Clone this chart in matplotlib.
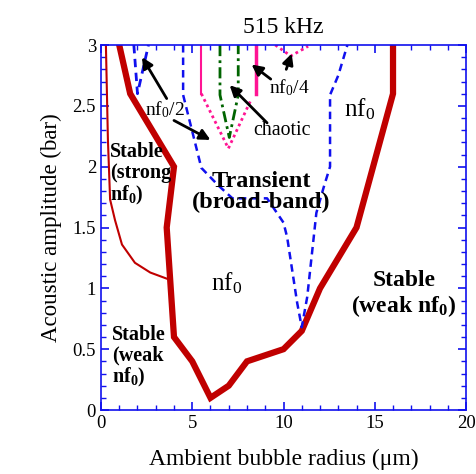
import numpy as np
import matplotlib.pyplot as plt

plt.rcParams['font.family'] = ['Liberation Serif', 'DejaVu Serif']
plt.rcParams['mathtext.fontset'] = 'custom'
plt.rcParams['mathtext.rm'] = 'Liberation Serif'
plt.rcParams['mathtext.it'] = 'Liberation Serif:italic'
plt.rcParams['mathtext.bf'] = 'Liberation Serif:bold'

# thick red boundary (stable / unstable)
bound_x = [1.0, 1.6, 4.0, 3.6, 4.0, 5.0, 6.0, 7.0, 8.0, 10.0, 11.0, 12.0, 14.0, 16.0, 16.0]
bound_y = [3.0, 2.6, 2.0, 1.5, 0.6, 0.4, 0.1, 0.2, 0.4, 0.5, 0.65, 1.0, 1.5, 2.6, 3.0]

# thin red curve (strong nf0 limit)
thin_x = [0.27, 0.38, 0.5, 0.77, 1.15, 1.86, 2.7, 3.6]
thin_y = [3.0, 2.22, 1.73, 1.56, 1.36, 1.21, 1.13, 1.08]

# blue dashed: small nf0/2 region
half_x = [1.8, 2.0, 2.6]
half_y = [3.0, 2.6, 3.0]

# blue dashed: transient region
trans_x = [4.5, 4.5, 5.15, 5.5, 6.4, 7.2, 9.1, 10.0, 10.2, 10.75, 11.0,
           11.3, 11.8, 12.2, 12.55, 12.55, 13.0, 13.5]
trans_y = [3.0, 2.59, 2.2, 1.99, 1.85, 1.74, 1.74, 1.54, 1.42, 0.88, 0.68,
           0.93, 1.62, 1.83, 2.0, 2.59, 2.75, 3.0]

# pink dotted nf0/2 V and solid verticals
pink_x = [5.5, 6.98, 8.25]
pink_y = [2.6, 2.15, 2.56]
pink_l_x = [5.5, 5.5]
pink_r_x = [8.5, 8.5]
pink_v_y = [3.0, 2.6]

# green dash-dot chaotic region
green_x = [6.52, 6.52, 7.03, 7.52, 7.52]
green_y = [3.0, 2.59, 2.24, 2.59, 3.0]

# pink dotted nf0/4 V
quart_x = [9.55, 10.4, 11.35]
quart_y = [3.0, 2.91, 2.99]

red = '#c00000'
blue = '#1010ee'
pink = '#ff1493'
green = '#006400'

fig = plt.figure(figsize=(4.77, 4.74), dpi=100)
ax = fig.add_axes([0.2117, 0.135, 0.7653, 0.77])

ax.plot(thin_x, thin_y, color=red, lw=1.5)
ax.plot(bound_x, bound_y, color=red, lw=4.5, solid_joinstyle='miter')
ax.plot(half_x, half_y, color=blue, lw=2, ls=(0, (3, 2)))
ax.plot(trans_x, trans_y, color=blue, lw=1.8, ls=(0, (3, 2)))
ax.plot(pink_x, pink_y, color=pink, lw=2, ls=(0, (1, 1.2)))
ax.plot(pink_l_x, pink_v_y, color=pink, lw=1.5)
ax.plot(pink_r_x, pink_v_y, color=pink, lw=2.5)
ax.plot(green_x, green_y, color=green, lw=2, ls=(0, (4, 1.5, 1, 1.5)))
ax.plot(quart_x, quart_y, color=pink, lw=2, ls=(0, (1, 1.2)))

arrow = dict(arrowstyle='-|>', lw=2, color='k', mutation_scale=16, shrinkA=0, shrinkB=0)
ax.annotate('', xy=(2.25, 2.9), xytext=(3.6, 2.56), arrowprops=arrow)
ax.annotate('', xy=(6.0, 2.22), xytext=(4.0, 2.38), arrowprops=arrow)
ax.annotate('', xy=(7.05, 2.67), xytext=(9.1, 2.36), arrowprops=arrow)
ax.annotate('', xy=(8.25, 2.84), xytext=(9.3, 2.72), arrowprops=arrow)
ax.annotate('', xy=(10.45, 2.93), xytext=(10.15, 2.8), arrowprops=arrow)

ax.text(3.5, 2.47, 'nf$_0$/2', fontsize=14, ha='center', va='center')
ax.text(9.9, 2.3, 'chaotic', fontsize=14.3, ha='center', va='center')
ax.text(10.3, 2.65, 'nf$_0$/4', fontsize=14, ha='center', va='center')
ax.text(14.15, 2.47, 'nf$_0$', fontsize=18, ha='center', va='center')
ax.text(6.9, 1.04, 'nf$_0$', fontsize=18, ha='center', va='center')
ax.text(8.8, 1.79, 'Transient\n(broad-band)', fontsize=17.5, fontweight='bold',
        ha='center', va='center', linespacing=1.0)
ax.text(0.5, 2.2, 'Stable\n(strong\nnf$_\\mathbf{0}$)', fontsize=14.5, fontweight='bold',
        ha='left', va='top', linespacing=1.05)
ax.text(0.6, 0.7, 'Stable\n(weak\nnf$_\\mathbf{0}$)', fontsize=14.5, fontweight='bold',
        ha='left', va='top', linespacing=1.05)
ax.text(16.6, 0.95, 'Stable\n(weak nf$_\\mathbf{0}$)', fontsize=17, fontweight='bold',
        ha='center', va='center', linespacing=1.15)

ax.set_xlim(0, 20)
ax.set_ylim(0, 3)
ax.set_xticks(np.arange(0, 21, 5))
ax.set_xticks(np.arange(0, 21, 1), minor=True)
ax.set_yticks(np.arange(0, 3.01, 0.5))
ax.set_yticks(np.arange(0, 3.01, 0.1), minor=True)
ax.set_yticklabels(['0', '0.5', '1', '1.5', '2', '2.5', '3'])
for s in ax.spines.values():
    s.set_color(blue)
    s.set_linewidth(1.2)
ax.tick_params(which='both', direction='in', top=True, right=True, color=blue,
               labelsize=13.5, labelcolor='k')
ax.tick_params(which='major', length=6, width=1.2)
ax.tick_params(which='minor', length=3.5, width=1)

ax.set_xlabel('Ambient bubble radius (\u03bcm)', fontsize=17, labelpad=12)
ax.set_ylabel('Acoustic amplitude (bar)', fontsize=16.5, labelpad=8)
ax.set_title('515 kHz', fontsize=17, pad=9)

fig.savefig('out.png', dpi=100)
